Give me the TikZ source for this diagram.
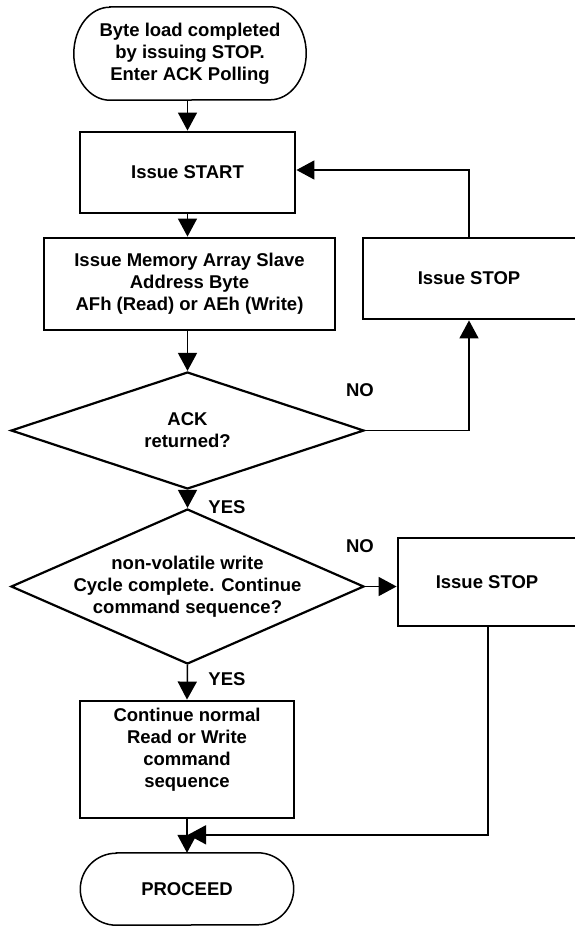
\documentclass[tikz,border=0pt]{standalone}
\usepackage{fontspec}
\setmainfont{Liberation Sans}
\usetikzlibrary{arrows.meta,shapes.geometric}
\begin{document}
\begin{tikzpicture}[x=1pt,y=-1pt,
  font=\fontsize{18.5}{22}\selectfont\bfseries,
  box/.style={draw,line width=2.8pt,align=center,inner sep=0pt},
  dec/.style={draw,diamond,line width=2.2pt,inner sep=0pt},
  term/.style={align=center,inner sep=0pt},
  termline/.style={line width=1.5pt},
  conn/.style={line width=1.5pt,-{Triangle[length=18pt,width=19pt]}},
  lab/.style={anchor=center,inner sep=0pt}]
\useasboundingbox (0,0) rectangle (574,927);

% top terminal
\node[term,minimum width=232pt,minimum height=93pt] (t1) at (190,53.5)
  {Byte load completed\\by issuing STOP.\\Enter ACK Polling};
\draw[termline] ([xshift=36pt]t1.north west) -- ([xshift=-36pt]t1.north east)
  arc[start angle=90,end angle=-90,x radius=36pt,y radius=46.5pt]
  -- ([xshift=36pt]t1.south west)
  arc[start angle=270,end angle=90,x radius=36pt,y radius=46.5pt] -- cycle;

\node[box,minimum width=215pt,minimum height=81pt] (start) at (187.5,172.5) {Issue START};
\node[box,minimum width=291pt,minimum height=92pt] (mem) at (189.5,284)
  {Issue Memory Array Slave\\Address Byte\\AFh (Read) or AEh (Write)};
\node[dec,minimum width=353pt,minimum height=117pt,
  label={[align=center,inner sep=0pt]center:{ACK\\returned?}}] (d1) at (187.5,430.5) {};
\node[box,minimum width=218pt,minimum height=81pt,
  label={[inner sep=0pt,xshift=-3pt]center:{Issue STOP}}] (stop1) at (472,278.5) {};

\node[dec,minimum width=353pt,minimum height=155pt,
  label={[align=center,inner sep=0pt]center:{non-volatile write\\Cycle complete. Continue\\command sequence?}}] (d2) at (187.5,586.5) {};
\node[box,minimum width=184pt,minimum height=88pt,
  label={[inner sep=0pt,xshift=-3pt]center:{Issue STOP}}] (stop2) at (490,582) {};

\node[box,minimum width=214pt,minimum height=117pt,
  label={[align=center,inner sep=0pt,yshift=10pt]center:{Continue normal\\Read or Write\\command\\sequence}}] (cont) at (187,759.5) {};

% bottom terminal
\node[term,minimum width=213pt,minimum height=72pt] (proc) at (187,889) {PROCEED};
\draw[termline] ([xshift=36pt]proc.north west) -- ([xshift=-36pt]proc.north east)
  arc[start angle=90,end angle=-90,x radius=36pt,y radius=36pt]
  -- ([xshift=36pt]proc.south west)
  arc[start angle=270,end angle=90,x radius=36pt,y radius=36pt] -- cycle;

% labels
\node[lab] (no1) at (360,390) {NO};
\node[lab] (yes1) at (227,507) {YES};
\node[lab] (no2) at (360,546) {NO};
\node[lab] (yes2) at (227,679) {YES};

% connectors
\coordinate (up1) at ([xshift=-3pt]stop1.south);
\coordinate (up1top) at ([xshift=-3pt]stop1.north);
\coordinate (dn2) at ([xshift=-2pt]stop2.south);
\draw[conn] (start.north |- t1.south) -- (start.north);
\draw[conn] (start.south) -- (start.south |- mem.north);
\draw[conn] (d1.north |- mem.south) -- (d1.north);
\draw[conn] (d1.east) -| (up1);
\draw[conn] (up1top) |- ([yshift=2.5pt]start.east);
\draw[conn] (d1.south) -- (d2.north);
\draw[conn] (d2.east) -- (d2.east -| stop2.west);
\draw[conn] (d2.south) -- (cont.north);
\draw[conn] (cont.south) -- (proc.north);
\coordinate (join) at ([yshift=18pt,xshift=1pt]proc.north);
\draw[conn] (dn2) |- (join);
\end{tikzpicture}
\end{document}
